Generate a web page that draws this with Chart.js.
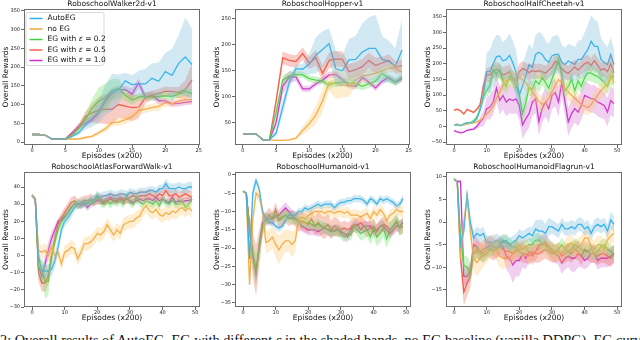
<!DOCTYPE html>
<html>
<head>
<meta charset="utf-8">
<script src="https://cdn.jsdelivr.net/npm/chart.js@4/dist/chart.umd.min.js"></script>
<style>
  html, body { margin: 0; padding: 0; background: #fff; }
  body { width: 640px; height: 340px; position: relative; overflow: hidden; }
  canvas { position: absolute; }
  #caption {
    position: absolute; left: 0; top: 333px; white-space: nowrap;
    font: 14.3px/1 "Liberation Serif", "DejaVu Serif", serif; color: #111;
  }
</style>
</head>
<body>
<canvas id="c0"></canvas>
<canvas id="c1"></canvas>
<canvas id="c2"></canvas>
<canvas id="c3"></canvas>
<canvas id="c4"></canvas>
<canvas id="c5"></canvas>
<div id="caption">2: Overall results of AutoEG, EG with different <i>ε</i> in the shaded bands, no EG baseline (vanilla DDPG). EG curves of</div>
<script>
// ===== 데이터 =====
const SERIES = ['AutoEG', 'no EG', 'EG with ε = 0.2', 'EG with ε = 0.5', 'EG with ε = 1.0'];

// Walker2d (25 points)
const walkerAuto  = [20,20,18,8,8,8,15,25,45,60,80,112,132,140,163,153,155,155,170,162,188,178,210,227,207];
const walkerAutoSd = [2,2,2,1,1,2,3,6,12,20,30,40,50,40,22,25,35,40,40,50,50,70,75,105,95];
const walkerNo    = [20,20,18,8,8,8,8,8,12,15,25,35,52,53,60,67,84,88,92,95,105,102,110,113,113];
const walkerNoSd  = [2,2,2,1,1,1,2,2,3,4,6,8,10,10,11,10,12,10,10,11,10,10,10,12,12];
const walker02    = [20,20,18,8,8,8,18,35,60,90,110,118,138,143,125,112,120,122,120,122,123,122,128,135,130];
const walker02Sd  = [2,2,2,1,1,2,4,8,15,25,35,38,30,25,15,12,10,10,10,11,10,9,10,10,10];
const walker05    = [20,20,18,8,8,7,20,40,68,78,85,88,87,100,96,92,93,118,125,130,135,135,132,140,165];
const walker05Sd  = [2,2,2,1,1,2,4,8,12,25,35,40,40,35,35,36,30,15,12,12,13,12,15,25,45];
const walker10    = [20,20,18,8,8,8,25,42,50,60,78,110,130,140,140,128,158,120,125,110,110,102,103,106,108];
const walker10Sd  = [2,2,2,1,1,2,4,8,10,10,12,15,15,10,10,15,12,10,10,10,8,8,8,8,8];

// Hopper (25 points)
const hopperAuto  = [28,28,28,17,17,30,80,128,154,153,163,180,191,202,154,150,171,172,186,193,193,172,168,159,190];
const hopperAutoSd = [1,1,1,1,1,5,15,12,8,10,20,35,35,30,35,30,40,45,55,60,65,45,40,35,60];
const hopperNo    = [28,28,28,17,17,16,16,17,20,35,48,65,92,127,126,123,120,133,140,142,145,150,155,155,147];
const hopperNoSd  = [1,1,1,1,1,1,1,2,3,8,12,18,22,15,30,25,20,12,12,10,8,8,8,9,8];
const hopper02    = [28,28,28,17,17,70,132,140,143,142,135,132,130,122,127,128,127,125,120,125,130,145,135,128,138];
const hopper02Sd  = [1,1,1,1,1,10,10,8,6,6,6,7,6,8,8,8,8,8,8,8,8,8,8,8,8];
const hopper05    = [28,28,28,17,17,92,175,170,168,183,165,175,145,170,173,172,148,152,158,170,160,165,170,157,160];
const hopper05Sd  = [1,1,1,1,1,10,12,12,12,12,12,15,15,15,15,15,15,15,15,15,15,12,12,12,12];
const hopper10    = [28,28,28,17,17,50,120,138,138,115,115,125,132,142,143,133,122,120,137,128,117,130,137,128,135];
const hopper10Sd  = [1,1,1,1,1,10,15,12,8,6,6,6,6,6,6,6,6,6,6,6,6,6,6,6,6];

// HalfCheetah (50 points)
const cheetahAuto  = [5,5,3,8,12,12,15,25,55,100,175,175,200,223,225,209,214,227,204,172,100,130,162,198,188,230,237,230,214,205,225,230,230,205,198,209,204,198,214,214,230,245,272,256,256,214,204,198,230,198];
const cheetahAutoSd = [3,3,3,3,3,3,4,6,15,30,60,70,75,70,65,60,65,70,70,72,70,68,70,65,60,62,65,66,60,58,60,62,60,55,54,55,56,55,60,62,70,80,82,85,80,70,62,55,55,50];
const cheetahNo    = [5,8,3,5,8,10,12,15,20,28,40,50,65,90,110,130,145,150,148,152,155,150,140,125,110,95,80,70,75,90,110,130,150,140,120,110,100,90,80,70,65,60,70,85,100,115,125,135,165,140];
const cheetahNoSd  = [2,2,2,2,2,3,4,5,6,8,10,12,15,18,20,22,24,25,26,25,24,25,26,25,24,25,26,25,25,24,25,26,25,24,25,26,25,24,25,26,25,24,25,26,25,24,25,26,25,24];
const cheetah02    = [5,5,3,8,12,12,18,30,55,95,115,130,180,167,182,146,128,160,151,130,100,42,78,125,120,146,135,156,141,122,151,182,214,167,114,128,151,114,146,128,156,172,170,164,160,151,141,128,156,160];
const cheetah02Sd  = [2,2,2,2,2,3,4,6,10,15,20,22,25,24,26,25,24,25,26,25,24,25,26,25,24,25,26,25,24,25,26,25,24,25,26,25,24,25,26,25,24,25,26,25,24,25,26,25,24,25];
const cheetah05    = [52,55,50,40,55,50,45,55,70,130,165,165,178,183,175,165,168,175,155,145,175,185,180,172,178,175,178,175,170,180,190,208,200,185,175,170,180,190,180,190,200,205,195,210,195,180,185,175,200,172];
const cheetah05Sd  = [3,3,3,3,3,3,3,4,10,20,22,24,25,24,23,24,25,24,23,24,25,24,23,24,25,24,23,24,25,24,23,24,25,24,23,24,25,24,23,24,25,24,23,24,25,24,23,26,28,30];
const cheetah10    = [-13,-17,-20,-18,-12,-10,-8,0,15,25,57,62,78,122,83,99,78,88,83,88,67,5,25,41,78,88,15,57,78,57,99,109,78,141,78,15,41,57,46,67,99,94,88,88,78,73,67,46,83,73];
const cheetah10Sd  = [3,3,3,3,3,4,5,8,15,25,35,40,40,45,44,45,46,45,44,45,46,45,44,45,46,45,44,45,46,45,44,45,46,45,44,45,46,45,44,45,46,45,44,45,46,45,44,45,46,45];

// AtlasForwardWalk (50 points)
const atlasAuto  = [35,33,0,-9,-9,-9,-8,-3,5,15,20,22,25,28,30,30,31,31,32,33,35,34,35,35,36,35,35,36,36,35,37,36,36,37,37,37,38,38,37,39,39,42,39,39,39,40,39,39,40,40];
const atlasAutoSd = [1,1,4,4,4,4,4,4,4,3,3,3,3,2.5,2.5,2.5,2.5,2.5,2.5,2.5,2.5,2.5,2.5,2.5,2.5,2.5,2.5,2.5,2.5,2.5,2.5,2.5,2.5,2.5,2.5,2.5,2.5,2.5,2.5,2.5,2.5,3,3,3,3,3,3,3,3,3];
const atlasNo    = [35,33,3,2,3,0,5,0,2,-5,2,3,5,4,-2,2,7,7,8,10,13,12,14,18,15,12,15,13,18,19,20,20,22,23,27,29,26,25,27,24,23,25,24,26,25,27,28,26,28,26];
const atlasNoSd  = [1,1,4,4,4,4,4,4,4,4,4,4,4,4,4,4,4,4,4,4,4,4,4,4,4,4,4,4,4,4,4,4,4,4,4,4,4,4,4,4,4,4,4,4,4,4,4,4,4,4];
const atlas02    = [35,33,-8,-8,-15,-15,0,8,15,20,22,25,28,30,30,30,31,30,32,31,35,31,30,32,30,32,31,32,30,35,31,30,34,31,30,32,31,30,32,29,33,31,30,32,30,30,32,28,30,33];
const atlas02Sd  = [1,1,6,6,10,8,6,4,3,3,3,3,3,2.5,2.5,2.5,2.5,2.5,2.5,2.5,3,2.5,2.5,2.5,2.5,2.5,2.5,2.5,2.5,3,2.5,2.5,2.5,2.5,2.5,2.5,2.5,2.5,2.5,2.5,2.5,2.5,2.5,2.5,2.5,2.5,2.5,2.5,2.5,2.5];
const atlas05    = [35,33,-10,-16,-16,-12,0,10,18,22,25,28,31,32,30,31,32,32,33,32,33,33,32,33,34,33,33,34,33,33,34,35,34,35,35,35,36,35,34,36,35,38,35,35,36,34,35,36,35,34];
const atlas05Sd  = [1,1,5,5,5,5,5,4,3,3,3,3,3,3,3,3,3,3,3,3,3,3,3,3,3,3,3,3,3,3,3,3,3,3,3,3,3,3,3,3,3,3,3,3,3,3,3,3,3,3];
const atlas10    = [35,33,-6,-12,-5,3,10,15,20,21,23,25,28,30,30,29,30,28,30,31,32,32,31,32,33,32,32,33,32,33,32,31,32,33,32,33,33,32,34,32,33,32,31,34,31,32,31,32,32,33];
const atlas10Sd  = [1,1,5,5,5,5,4,3,2,2,2,2,2,2,2,2,2,2,2,2,2,2,2,2,2,2,2,2,2,2,2,2,2,2,2,2,2,2,2,2,2,2,2,2,2,2,2,2,2,2];

// Humanoid (50 points)
const humAuto  = [-4.5,-5,-23,-5,-1.5,-4,-10,-12,-13,-13,-14,-14.5,-14,-12.5,-11,-11,-11,-10,-10,-9,-9.5,-9,-8.5,-8,-8.5,-8,-8,-8,-9,-8,-7.5,-7.5,-7,-7,-6.5,-6.5,-6.5,-7,-8,-6.5,-7,-8,-6.5,-7,-6.5,-7,-7.5,-8.5,-8,-6.5];
const humAutoSd = [0.3,0.3,2,2,1,1,1,1,1,1,1,1,1,1,1,1,1,1,1,1,1,1,1,1,1,1,1,1,1,1,1,1,1,1,1,1,1,1,1,1,1,1,1,1,1,1,1,1,1,1.2];
const humNo    = [-4.5,-5,-30,-12,-5,-6,-10,-18.5,-18,-17,-19,-20.5,-19,-18,-18,-19,-18,-12,-11.5,-12,-11,-10.5,-10,-10,-10,-10.5,-10,-10,-10.5,-10,-10,-10.5,-10,-11,-11,-11,-11.5,-11,-10.5,-12,-10,-11,-9.5,-10.5,-12.5,-11,-10.5,-9.5,-10,-10];
const humNoSd  = [0.3,0.3,2,2,1.5,1.5,2,3,3,3,3.5,4,3.5,3,3,3.5,3,2,2,2,2,1.5,1.5,1.5,1.5,1.5,1.5,1.5,1.5,1.5,1.5,1.5,1.5,1.5,1.5,1.5,1.5,1.5,1.5,1.5,1.5,1.5,1.5,1.5,1.5,1.5,1.5,1.5,1.5,1.5];
const hum02    = [-4.5,-5,-15,-22,-26,-20,-14,-12,-12,-11.5,-11,-12,-11.5,-11,-11.5,-12,-12,-12.5,-13,-13,-13,-13.5,-14,-13.5,-14,-14.5,-15,-15,-15.5,-15,-16,-17,-16,-16.5,-14,-15,-16,-15.5,-15,-17,-14.5,-17,-16,-14.5,-17.5,-15,-14,-12.5,-14.5,-14];
const hum02Sd  = [0.3,0.3,3,4,4,3,2,1.5,1.5,1.5,1.5,1.5,1.5,1.5,1.5,1.5,1.5,1.5,1.5,1.5,1.5,1.5,1.5,1.5,1.5,1.5,1.5,1.5,1.5,1.5,1.5,1.5,1.5,1.5,1.5,1.5,2,2,2,2,2.5,2.5,2.5,2.5,2.5,2.5,2,2,2,2];
const hum05    = [-4.5,-5,-15,-22,-26,-20,-14,-12,-11,-12,-9.5,-12.5,-12,-11,-12,-11.5,-12,-13,-12.5,-13,-13.5,-12,-14,-13,-14,-14.5,-13.5,-15,-14,-14.5,-15,-14.5,-15,-14.5,-13.5,-14,-13,-14,-15,-14.5,-14,-15.5,-14,-13.5,-14,-15,-14,-13,-14.5,-14];
const hum05Sd  = [0.3,0.3,4,6,7,5,3,2,2,2,2,2,2,2,2,2,2,2.5,2.5,2.5,2.5,2.5,2.5,3,3,3,3,2.5,2.5,2.5,2,2,2,2,2,2,2,2,2,2,2,2,2,2,2,2,2,2,2,2];
const hum10    = [-4.5,-5,-14,-22,-27,-19,-13,-12,-12,-12,-11.5,-11,-10,-9,-10,-11,-12,-12.5,-14,-14.5,-15,-15,-15,-15.5,-15,-14.5,-15,-15.5,-15,-15,-15.5,-16,-17,-15,-14,-13.5,-15,-14,-14,-14,-15.5,-15,-14,-14,-15,-16,-15,-14,-14,-13];
const hum10Sd  = [0.3,0.3,2,3,3,2,1.5,1.5,1.5,1.5,1.5,1.5,1.5,1.5,1.5,1.5,1.5,1.5,1.5,1.5,1.5,1.5,1.5,1.5,1.5,1.5,1.5,1.5,1.5,1.5,1.5,1.5,1.5,1.5,1.5,1.5,1.5,1.5,1.5,1.5,1.5,1.5,1.5,1.5,1.5,1.5,1.5,1.5,1.5,1.5];

// HumanoidFlagrun (50 points)
const flagAuto  = [9.5,9,-5,-2,6,0,-3.5,-2.5,-3,-2.5,-4.5,-4.5,-4.5,-4,-4.5,-4.5,-4,-5,-4.5,-4,-3,-3.5,-3,-2.5,-3,-1.5,-2,-2,-2.5,-1,-1,-1.5,-2,-0.5,-1.5,-1.5,-1,-1.5,-0.5,-0.5,-1.5,-1,-2.5,-1,-0.5,-1,-0.5,-2,0.5,-0.5];
const flagAutoSd = [0.3,0.3,1.5,1.5,1,1.5,1.5,1.5,1.5,1.5,1.5,1.5,1.5,1.5,1.5,1.5,1.5,1.5,1.5,1.5,1.5,1.5,1.5,1.5,2,2,2.5,2.5,2,2,1.5,1.5,1.5,1.5,1.5,1.5,1.5,1.5,1.5,1.5,1.5,1.5,1.5,1.5,1.5,1.5,1.5,1.5,1.8,1.8];
const flagNo    = [9.5,9,-8,0,5.5,-2,-8,-9,-8,-7,-6,-5.5,-5,-6,-7.5,-8,-8,-8,-7,-6.5,-5,-6,-5.5,-7,-7,-6.5,-6,-4.5,-5,-6.5,-6,-7,-6.5,-7,-6,-5,-4.5,-6,-5.5,-5,-3.5,-3.5,-5.5,-6,-5,-5,-6,-4,-3,-2.5];
const flagNoSd  = [0.3,0.3,1.5,1.5,1.5,2,3,3,3,3,3,2.5,2.5,2.5,2.5,2.5,2,2,2,2,2,2,2,2,2,2,2,2,2,2,2,2,2,2,2,2,2,2,2,2,2,2,2,2,2,2,2,2,2,2];
const flag02    = [9.5,9,-3,-9.5,-10,-11,-7,-6.5,-7,-7.5,-7,-6,-6,-5.5,-5,-4,-4.5,-5,-5.5,-5.5,-6,-6,-5.5,-5,-5,-4,-4,-5,-5,-5.5,-6,-6.5,-6,-5,-6,-6.5,-6,-5,-5.5,-6,-6.5,-6.5,-6,-7,-6.5,-5.5,-5,-6,-6.5,-7];
const flag02Sd  = [0.3,0.3,1.5,2,2.5,2,1.5,1.5,1.5,1.5,1.5,1.5,1.5,1.5,1.5,1.5,1.5,1.5,1.5,1.5,1.5,1.5,1.5,1.5,1.5,1.5,1.5,1.5,1.5,1.5,1.5,1.5,1.5,1.5,1.5,1.5,1.5,1.5,1.5,1.5,1.5,1.5,1.5,1.5,1.5,1.5,1.5,1.5,1.5,1.5];
const flag05    = [9.5,9,-8,-15.5,-13.5,-12,-7,-6,-6.5,-6,-5.5,-6,-6.5,-6,-5.5,-6,-6.5,-6.5,-7,-6,-6.5,-7,-7,-7.5,-6.5,-7,-7,-6.5,-6,-6.5,-7,-7,-6.5,-7.5,-7,-6.5,-7,-6,-6.5,-7.5,-6,-6.5,-7,-7,-7.5,-7,-7,-7.5,-8,-7];
const flag05Sd  = [0.3,0.3,2,3,3,2.5,2,2,2,2,2,2,2,2,2,2,2,2,2,2,2,2,2,2,2,2,2,2,2,2,2,2,2,2,2,2,2,2,2,2,2,2,2,2,2,2,2,2,2,2];
const flag10    = [9.5,9,9,-12,-12,-11,-5,-5.5,-6.5,-7,-6,-5,-5.5,-6,-5,-5.5,-7.5,-8,-9.5,-8.5,-8.5,-7,-8,-6.5,-7.5,-6.5,-5,-5,-4.5,-5.5,-6.5,-7,-7.5,-9,-8,-7.5,-8,-8,-7,-7.5,-8.5,-8,-7,-7,-8.5,-8,-8,-8,-7.5,-7];
const flag10Sd  = [0.3,0.3,0.5,2,2,2,2,2,2,2,2,2,2,2,2,2,3,3.5,4,3.5,3.5,3,2.5,2,2,2,2,2,2,2,2,2,2,2.5,2.5,2.5,3,3,3,2.5,2,2,2,2,2,2,2,2,2,2];

// 축 눈금
const ticks25 = [0, 5, 10, 15, 20, 25];
const ticks50 = [0, 10, 20, 30, 40, 50];
const walkerTicks = [0, 50, 100, 150, 200, 250, 300, 350];
const hopperTicks = [50, 100, 150, 200, 250];
const cheetahTicks = [-50, 0, 50, 100, 150, 200, 250, 300, 350];
const atlasTicks = [-30, -20, -10, 0, 10, 20, 30, 40];
const humTicks = [-35, -30, -25, -20, -15, -10, -5, 0];
const flagTicks = [-15, -10, -5, 0, 5, 10];

// ===== 스타일 =====
const LINE_COLORS = ['#22b4f6', '#f0a63c', '#46cf46', '#f5634e', '#cf2ccf'];
const BAND_COLORS = ['rgba(115,182,214,0.32)', 'rgba(255,200,110,0.32)', 'rgba(110,225,100,0.34)', 'rgba(236,95,75,0.32)', 'rgba(205,95,205,0.30)'];
const FONT = 'DejaVu Sans';

const panels = [
  { id: 'c0', title: 'RoboschoolWalker2d-v1', cell: [0, 0, 205, 160], frame: [24, 9, 200, 145],
    xr: [-1.2, 25.2], yr: [-8, 355], xt: ticks25, yt: walkerTicks, legend: true,
    series: [[walkerAuto, walkerAutoSd], [walkerNo, walkerNoSd], [walker02, walker02Sd], [walker05, walker05Sd], [walker10, walker10Sd]] },
  { id: 'c1', title: 'RoboschoolHopper-v1', cell: [205, 0, 211, 160], frame: [235, 9, 410, 145],
    xr: [-1.2, 25.2], yr: [7, 269], xt: ticks25, yt: hopperTicks,
    series: [[hopperAuto, hopperAutoSd], [hopperNo, hopperNoSd], [hopper02, hopper02Sd], [hopper05, hopper05Sd], [hopper10, hopper10Sd]] },
  { id: 'c2', title: 'RoboschoolHalfCheetah-v1', cell: [416, 0, 224, 160], frame: [446, 9, 622, 145],
    xr: [-2.45, 51.45], yr: [-59, 375], xt: ticks50, yt: cheetahTicks,
    series: [[cheetahAuto, cheetahAutoSd], [cheetahNo, cheetahNoSd], [cheetah02, cheetah02Sd], [cheetah05, cheetah05Sd], [cheetah10, cheetah10Sd]] },
  { id: 'c3', title: 'RoboschoolAtlasForwardWalk-v1', cell: [0, 160, 205, 165], frame: [24, 172, 200, 307],
    xr: [-2.45, 51.45], yr: [-30, 48.75], xt: ticks50, yt: atlasTicks,
    series: [[atlasAuto, atlasAutoSd], [atlasNo, atlasNoSd], [atlas02, atlas02Sd], [atlas05, atlas05Sd], [atlas10, atlas10Sd]] },
  { id: 'c4', title: 'RoboschoolHumanoid-v1', cell: [205, 160, 211, 165], frame: [235, 172, 411, 307],
    xr: [-2.45, 51.45], yr: [-36.1, 0.8], xt: ticks50, yt: humTicks,
    series: [[humAuto, humAutoSd], [humNo, humNoSd], [hum02, hum02Sd], [hum05, hum05Sd], [hum10, hum10Sd]] },
  { id: 'c5', title: 'RoboschoolHumanoidFlagrun-v1', cell: [416, 160, 224, 165], frame: [446, 172, 622, 307],
    xr: [-2.45, 51.45], yr: [-18.8, 11.1], xt: ticks50, yt: flagTicks,
    series: [[flagAuto, flagAutoSd], [flagNo, flagNoSd], [flag02, flag02Sd], [flag05, flag05Sd], [flag10, flag10Sd]] }
];

const Y_W = 22;   // y축 폭 (눈금 + 제목)
const X_H = 16;   // x축 높이

function fmt(v) {
  return v < 0 ? '\u2212' + Math.abs(v) : String(v);
}

// 테두리 + 제목 플러그인
const framePlugin = {
  id: 'frame',
  afterDatasetsDraw(chart, args, opts) {
    const { ctx, chartArea: a } = chart;
    ctx.save();
    ctx.strokeStyle = '#6e6e6e';
    ctx.lineWidth = 1;
    ctx.strokeRect(a.left + 0.5, a.top + 0.5, a.right - a.left - 1, a.bottom - a.top - 1);
    ctx.fillStyle = '#111';
    ctx.font = '7.5px "' + FONT + '"';
    ctx.textAlign = 'center';
    ctx.textBaseline = 'middle';
    ctx.fillText(opts.title, (a.left + a.right) / 2, a.top - 5);
    ctx.restore();
  }
};

// 범례 플러그인 (첫 번째 패널만)
const legendPlugin = {
  id: 'boxLegend',
  afterDraw(chart, args, opts) {
    if (!opts.show) return;
    const { ctx, chartArea: a } = chart;
    const x0 = a.left + 1.5, y0 = a.top + 3, w = 78, h = 53;
    ctx.save();
    ctx.fillStyle = 'rgba(255,255,255,0.85)';
    ctx.strokeStyle = '#cfcfcf';
    ctx.lineWidth = 0.8;
    ctx.beginPath();
    ctx.roundRect(x0 + 0.5, y0 + 0.5, w, h, 2);
    ctx.fill();
    ctx.stroke();
    ctx.font = '7.5px "' + FONT + '"';
    ctx.textBaseline = 'middle';
    SERIES.forEach((name, i) => {
      const y = y0 + 6.5 + i * 10.5;
      ctx.strokeStyle = LINE_COLORS[i];
      ctx.lineWidth = 1.5;
      ctx.beginPath();
      ctx.moveTo(x0 + 4, y);
      ctx.lineTo(x0 + 17, y);
      ctx.stroke();
      ctx.fillStyle = '#111';
      let tx = x0 + 22;
      const k = name.indexOf('ε');
      if (k < 0) {
        ctx.fillText(name, tx, y);
      } else {
        const pre = name.slice(0, k), post = name.slice(k + 1);
        ctx.fillText(pre, tx, y);
        tx += ctx.measureText(pre).width;
        ctx.font = 'italic 7.5px "' + FONT + '"';
        ctx.fillText('ε', tx, y);
        tx += ctx.measureText('ε').width;
        ctx.font = '7.5px "' + FONT + '"';
        ctx.fillText(post, tx, y);
      }
    });
    ctx.restore();
  }
};

function buildDatasets(series) {
  const bands = [], lines = [];
  series.forEach(([mean, sd], i) => {
    const upper = mean.map((v, k) => ({ x: k, y: v + sd[k] }));
    const lower = mean.map((v, k) => ({ x: k, y: v - sd[k] }));
    bands.push({ data: upper, fill: '+1', backgroundColor: BAND_COLORS[i], borderWidth: 0, borderColor: 'rgba(0,0,0,0)', pointRadius: 0 });
    bands.push({ data: lower, fill: false, borderWidth: 0, borderColor: 'rgba(0,0,0,0)', pointRadius: 0 });
    lines.push({ label: SERIES[i], data: mean.map((v, k) => ({ x: k, y: v })), fill: false,
      borderColor: LINE_COLORS[i], borderWidth: 1.3, pointRadius: 0, tension: 0 });
  });
  return bands.concat(lines);
}

function makeAxis(range, ticks, title, isX) {
  return {
    type: 'linear',
    min: range[0],
    max: range[1],
    afterBuildTicks: (axis) => { axis.ticks = ticks.map(v => ({ value: v })); },
    afterFit: (axis) => { if (isX) axis.height = X_H; else axis.width = Y_W; },
    grid: { drawOnChartArea: false, drawTicks: true, tickLength: 3, tickColor: '#444', tickWidth: 0.8 },
    border: { display: false },
    ticks: { autoSkip: false, maxRotation: 0, padding: isX ? 0 : 1, color: '#222',
      font: { family: FONT, size: 5 }, callback: (v) => fmt(v) },
    title: { display: true, text: title, color: '#111', padding: 0,
      font: { family: FONT, size: 7.5 } }
  };
}

panels.forEach(p => {
  const [cx, cy, cw, ch] = p.cell;
  const [l, t, r, b] = p.frame;
  const canvas = document.getElementById(p.id);
  canvas.width = cw;
  canvas.height = ch;
  canvas.style.left = cx + 'px';
  canvas.style.top = cy + 'px';
  canvas.style.width = cw + 'px';
  canvas.style.height = ch + 'px';

  new Chart(canvas, {
    type: 'line',
    data: { datasets: buildDatasets(p.series) },
    plugins: [framePlugin, legendPlugin],
    options: {
      responsive: false,
      animation: false,
      devicePixelRatio: 1,
      parsing: true,
      layout: { padding: { left: l - cx - Y_W, right: cx + cw - r, top: t - cy, bottom: cy + ch - b - X_H } },
      plugins: {
        legend: { display: false },
        tooltip: { enabled: false },
        frame: { title: p.title },
        boxLegend: { show: !!p.legend }
      },
      scales: {
        x: makeAxis(p.xr, p.xt, 'Episodes (x200)', true),
        y: makeAxis(p.yr, p.yt, 'Overall Rewards', false)
      }
    }
  });
});
</script>
</body>
</html>
